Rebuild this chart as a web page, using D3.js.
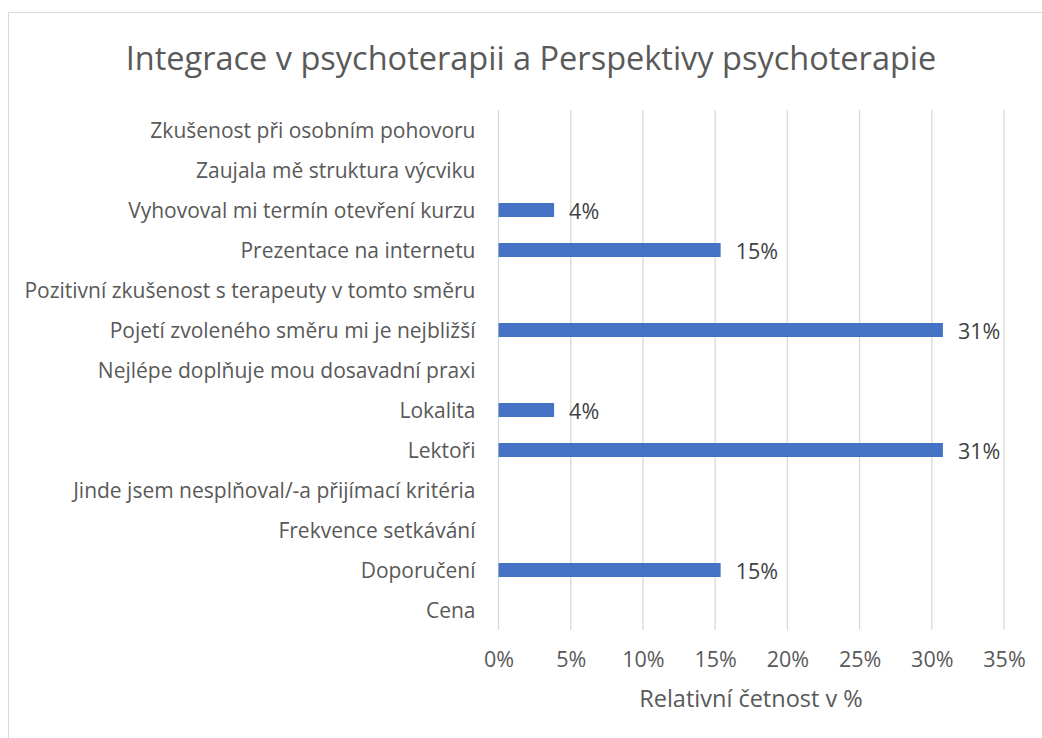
<!DOCTYPE html>
<html>
<head>
<meta charset="utf-8">
<script src="https://cdn.jsdelivr.net/npm/d3@7"></script>
<style>
  body { margin: 0; background: #fff; }
  text { font-family: "Open Sans", sans-serif; fill: #595959; }
</style>
</head>
<body>
<svg width="1042" height="738"></svg>
<script>
// categories top to bottom
var categories = [
  "Zkušenost při osobním pohovoru",
  "Zaujala mě struktura výcviku",
  "Vyhovoval mi termín otevření kurzu",
  "Prezentace na internetu",
  "Pozitivní zkušenost s terapeuty v tomto směru",
  "Pojetí zvoleného směru mi je nejbližší",
  "Nejlépe doplňuje mou dosavadní praxi",
  "Lokalita",
  "Lektoři",
  "Jinde jsem nesplňoval/-a přijímací kritéria",
  "Frekvence setkávání",
  "Doporučení",
  "Cena"
];
// relative frequency (share), null = no bar
var values = [null, null, 0.0385, 0.1538, null, 0.3077, null, 0.0385, 0.3077, null, null, 0.1538, null];
var ticks = [0, 0.05, 0.10, 0.15, 0.20, 0.25, 0.30, 0.35];

var title = "Integrace v psychoterapii a Perspektivy psychoterapie";
var xTitle = "Relativní četnost v %";

var svg = d3.select("svg");

// chart border
svg.append("rect")
  .attr("x", 8.5).attr("y", 12.5)
  .attr("width", 1060).attr("height", 760)
  .attr("fill", "none")
  .attr("stroke", "#d9d9d9");

var plotLeft = 498.5, plotRight = 1004, plotTop = 110, plotBottom = 630;

var x = d3.scaleLinear().domain([0, 0.35]).range([plotLeft, plotRight]);
var y = d3.scaleBand().domain(categories).range([plotTop, plotBottom]).paddingInner(0.65).paddingOuter(0.325);

// gridlines
svg.append("g").selectAll("line")
  .data(ticks)
  .enter().append("line")
  .attr("x1", function(d) { return x(d); })
  .attr("x2", function(d) { return x(d); })
  .attr("y1", plotTop).attr("y2", plotBottom)
  .attr("stroke", "#d9d9d9")
  .attr("stroke-width", 1.3);

// x axis labels
var xAxis = d3.axisBottom(x).tickValues(ticks).tickSize(0).tickPadding(0)
  .tickFormat(d3.format(".0%"));
var gx = svg.append("g").attr("transform", "translate(0,667)").call(xAxis);
gx.select(".domain").remove();
gx.selectAll("text").attr("font-size", 21.5).attr("font-family", null).attr("fill", null)
  .attr("dy", 0);

// category labels
var yAxis = d3.axisLeft(y).tickSize(0).tickPadding(23);
var gy = svg.append("g").attr("transform", "translate(" + plotLeft + ",0)").call(yAxis);
gy.select(".domain").remove();
gy.selectAll("text").attr("font-size", 21).attr("font-family", null).attr("fill", null)
  .attr("dy", "0.36em");

// bars
var rows = categories.map(function(c, i) { return { cat: c, v: values[i] }; })
  .filter(function(d) { return d.v != null; });

svg.append("g").selectAll("rect")
  .data(rows)
  .enter().append("rect")
  .attr("x", x(0))
  .attr("y", function(d) { return y(d.cat); })
  .attr("width", function(d) { return x(d.v) - x(0); })
  .attr("height", y.bandwidth())
  .attr("fill", "#4472c4");

// data labels
svg.append("g").selectAll("text")
  .data(rows)
  .enter().append("text")
  .attr("x", function(d) { return x(d.v) + 15; })
  .attr("y", function(d) { return y(d.cat) + y.bandwidth() / 2; })
  .attr("dy", "0.42em")
  .attr("font-size", 21.5)
  .style("fill", "#404040")
  .text(function(d) { return Math.round(d.v * 100) + "%"; });

// titles
svg.append("text")
  .attr("x", 531).attr("y", 70)
  .attr("text-anchor", "middle")
  .attr("font-size", 32.5)
  .text(title);

svg.append("text")
  .attr("x", 751).attr("y", 707)
  .attr("text-anchor", "middle")
  .attr("font-size", 23.5)
  .text(xTitle);
</script>
</body>
</html>
